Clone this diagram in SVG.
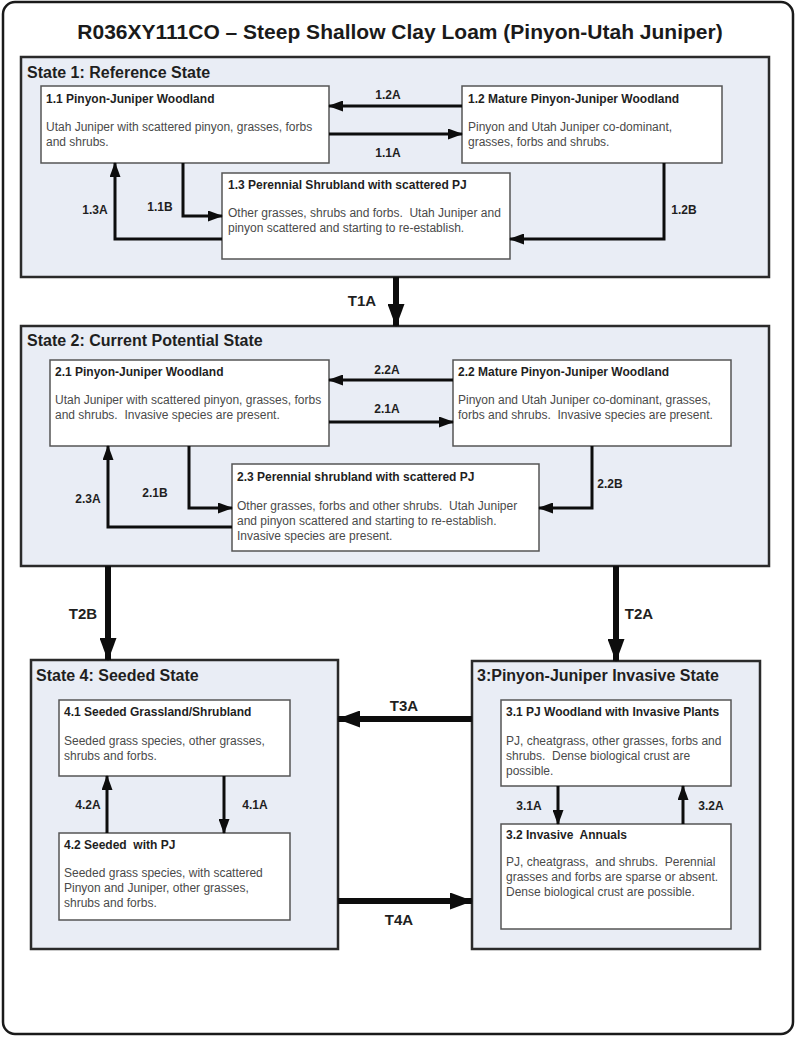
<svg xmlns="http://www.w3.org/2000/svg" width="800" height="1037" viewBox="0 0 800 1037">
<defs>
<style>
text{white-space:pre}
.frame{fill:#fff;stroke:#1a1a1a;stroke-width:2.5}
.state{fill:#e9edf5;stroke:#2a2a2a;stroke-width:2.5}
.node{fill:#fff;stroke:#555;stroke-width:1.5}
.title{font-family:"Liberation Sans",Arial,sans-serif;font-weight:bold;font-size:21px;fill:#1a1a1a}
.stitle{font-family:"Liberation Sans",Arial,sans-serif;font-weight:bold;font-size:16px;fill:#1f1f1f}
.ntitle{font-family:"Liberation Sans",Arial,sans-serif;font-weight:bold;font-size:12px;fill:#1f1f1f}
.body{font-family:"Liberation Sans",Arial,sans-serif;font-size:12px;fill:#4a4a4a}
.lbl{font-family:"Liberation Sans",Arial,sans-serif;font-weight:bold;font-size:12px;fill:#1f1f1f;text-anchor:middle}
.tlbl{font-family:"Liberation Sans",Arial,sans-serif;font-weight:bold;font-size:15px;fill:#1f1f1f;text-anchor:middle}
.thin{fill:none;stroke:#0d0d0d;stroke-width:3;marker-end:url(#ah)}
.thick{fill:none;stroke:#0d0d0d;stroke-width:6;marker-end:url(#ahT)}
</style>
<marker id="ah" markerUnits="userSpaceOnUse" markerWidth="15" markerHeight="11" refX="14" refY="5.5" orient="auto">
<path d="M0,0 L15,5.5 L0,11 z" fill="#0d0d0d"/>
</marker>
<marker id="ahT" markerUnits="userSpaceOnUse" markerWidth="23" markerHeight="17" refX="22" refY="8.5" orient="auto">
<path d="M0,0 L23,8.5 L0,17 z" fill="#0d0d0d"/>
</marker>
</defs>

<rect class="frame" x="3" y="2" width="790" height="1032" rx="12"/>
<text class="title" x="400" y="39" text-anchor="middle">R036XY111CO – Steep Shallow Clay Loam (Pinyon-Utah Juniper)</text>

<g id="state1">
<rect class="state" x="21" y="57" width="748" height="220"/>
<text class="stitle" x="27" y="78">State 1: Reference State</text>
</g>
<g id="state2">
<rect class="state" x="21" y="326" width="748" height="240"/>
<text class="stitle" x="27" y="346">State 2: Current Potential State</text>
</g>
<g id="state4">
<rect class="state" x="31" y="660" width="307" height="289"/>
<text class="stitle" x="36" y="681">State 4: Seeded State</text>
</g>
<g id="state3">
<rect class="state" x="472" y="661" width="288" height="288"/>
<text class="stitle" x="477" y="681">3:Pinyon-Juniper Invasive State</text>
</g>

<g id="n1-1">
<rect class="node" x="41" y="86" width="288" height="77"/>
<text class="ntitle" x="46" y="103">1.1 Pinyon-Juniper Woodland</text>
<text class="body" x="46" y="131">Utah Juniper with scattered pinyon, grasses, forbs</text>
<text class="body" x="46" y="146">and shrubs.</text>
</g>
<g id="n1-2">
<rect class="node" x="462" y="86" width="260" height="77"/>
<text class="ntitle" x="468" y="103">1.2 Mature Pinyon-Juniper Woodland</text>
<text class="body" x="468" y="131">Pinyon and Utah Juniper co-dominant,</text>
<text class="body" x="468" y="146">grasses, forbs and shrubs.</text>
</g>
<g id="n1-3">
<rect class="node" x="222" y="173" width="288" height="86"/>
<text class="ntitle" x="228" y="189">1.3 Perennial Shrubland with scattered PJ</text>
<text class="body" x="228" y="217">Other grasses, shrubs and forbs.  Utah Juniper and</text>
<text class="body" x="228" y="232">pinyon scattered and starting to re-establish.</text>
</g>

<g id="n2-1">
<rect class="node" x="50" y="360" width="279" height="86"/>
<text class="ntitle" x="55" y="376">2.1 Pinyon-Juniper Woodland</text>
<text class="body" x="55" y="404">Utah Juniper with scattered pinyon, grasses, forbs</text>
<text class="body" x="55" y="419">and shrubs.  Invasive species are present.</text>
</g>
<g id="n2-2">
<rect class="node" x="453" y="360" width="278" height="86"/>
<text class="ntitle" x="458" y="376">2.2 Mature Pinyon-Juniper Woodland</text>
<text class="body" x="458" y="404">Pinyon and Utah Juniper co-dominant, grasses,</text>
<text class="body" x="458" y="419">forbs and shrubs.  Invasive species are present.</text>
</g>
<g id="n2-3">
<rect class="node" x="232" y="464" width="307" height="87"/>
<text class="ntitle" x="237" y="481">2.3 Perennial shrubland with scattered PJ</text>
<text class="body" x="237" y="510">Other grasses, forbs and other shrubs.  Utah Juniper</text>
<text class="body" x="237" y="525">and pinyon scattered and starting to re-establish.</text>
<text class="body" x="237" y="540">Invasive species are present.</text>
</g>

<g id="n4-1">
<rect class="node" x="59" y="700" width="231" height="76"/>
<text class="ntitle" x="64" y="716">4.1 Seeded Grassland/Shrubland</text>
<text class="body" x="64" y="745">Seeded grass species, other grasses,</text>
<text class="body" x="64" y="760">shrubs and forbs.</text>
</g>
<g id="n4-2">
<rect class="node" x="59" y="833" width="231" height="87"/>
<text class="ntitle" x="64" y="849">4.2 Seeded  with PJ</text>
<text class="body" x="64" y="877">Seeded grass species, with scattered</text>
<text class="body" x="64" y="892">Pinyon and Juniper, other grasses,</text>
<text class="body" x="64" y="907">shrubs and forbs.</text>
</g>

<g id="n3-1">
<rect class="node" x="501" y="700" width="230" height="86"/>
<text class="ntitle" x="506" y="716">3.1 PJ Woodland with Invasive Plants</text>
<text class="body" x="506" y="745">PJ, cheatgrass, other grasses, forbs and</text>
<text class="body" x="506" y="760">shrubs.  Dense biological crust are</text>
<text class="body" x="506" y="775">possible.</text>
</g>
<g id="n3-2">
<rect class="node" x="501" y="824" width="230" height="105"/>
<text class="ntitle" x="506" y="839">3.2 Invasive  Annuals</text>
<text class="body" x="506" y="866">PJ, cheatgrass,  and shrubs.  Perennial</text>
<text class="body" x="506" y="881">grasses and forbs are sparse or absent.</text>
<text class="body" x="506" y="896">Dense biological crust are possible.</text>
</g>

<g id="connectors">
<path class="thin" d="M462,106 H329"/>
<path class="thin" d="M329,134 H462"/>
<path class="thin" d="M183,163 V216 H222"/>
<path class="thin" d="M222,239 H115 V163"/>
<path class="thin" d="M664,163 V239 H510"/>
<path class="thick" d="M396,277 V326"/>
<path class="thin" d="M453,380 H329"/>
<path class="thin" d="M329,422 H453"/>
<path class="thin" d="M189,446 V508 H232"/>
<path class="thin" d="M232,527 H108 V446"/>
<path class="thin" d="M592,446 V508 H539"/>
<path class="thick" d="M108,566 V660"/>
<path class="thick" d="M616,566 V661"/>
<path class="thin" d="M107,833 V776"/>
<path class="thin" d="M224,776 V833"/>
<path class="thin" d="M558,786 V824"/>
<path class="thin" d="M683,824 V786"/>
<path class="thick" d="M472,719 H338"/>
<path class="thick" d="M338,901 H472"/>
<text class="lbl" x="388" y="99">1.2A</text>
<text class="lbl" x="388" y="157">1.1A</text>
<text class="lbl" x="160" y="211">1.1B</text>
<text class="lbl" x="95" y="214">1.3A</text>
<text class="lbl" x="684" y="214">1.2B</text>
<text class="tlbl" x="362" y="306">T1A</text>
<text class="lbl" x="387" y="374">2.2A</text>
<text class="lbl" x="387" y="413">2.1A</text>
<text class="lbl" x="155" y="497">2.1B</text>
<text class="lbl" x="88" y="503">2.3A</text>
<text class="lbl" x="610" y="488">2.2B</text>
<text class="tlbl" x="83" y="619">T2B</text>
<text class="tlbl" x="639" y="619">T2A</text>
<text class="lbl" x="88" y="809">4.2A</text>
<text class="lbl" x="255" y="809">4.1A</text>
<text class="lbl" x="529" y="810">3.1A</text>
<text class="lbl" x="711" y="810">3.2A</text>
<text class="tlbl" x="404" y="711">T3A</text>
<text class="tlbl" x="399" y="925">T4A</text>
</g>
</svg>
